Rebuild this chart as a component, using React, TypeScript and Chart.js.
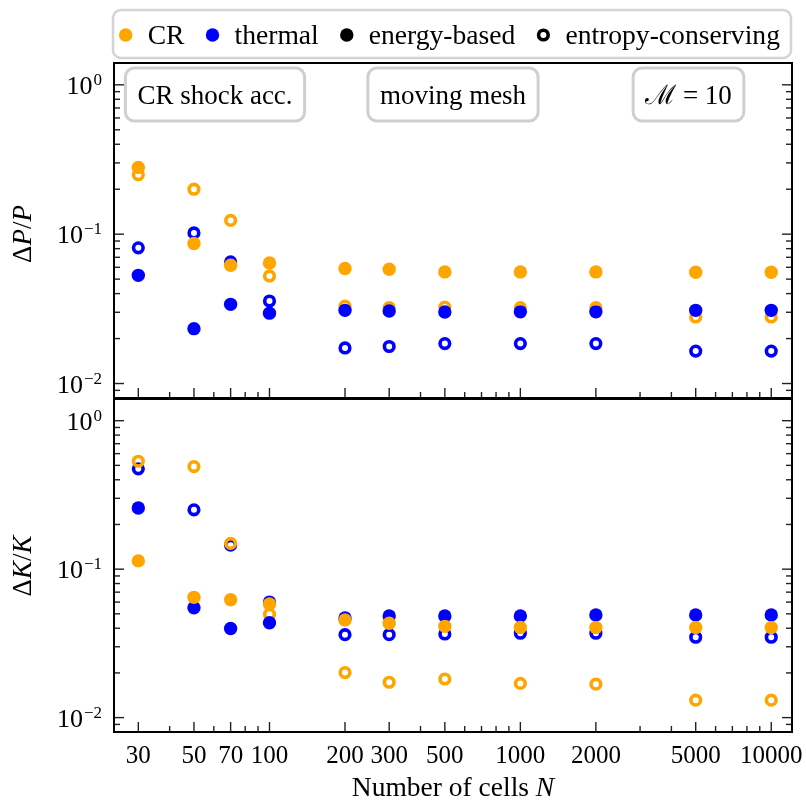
import React, { useEffect, useRef } from "react";
import { Chart, registerables } from "chart.js";
Chart.register(...registerables);

// ---------- data ----------
const cells = [30, 50, 70, 100, 200, 300, 500, 1000, 2000, 5000, 10000];
const xTickLabels = ["30", "50", "70", "100", "200", "300", "500", "1000", "2000", "5000", "10000"];
const yTickValues = [1, 0.1, 0.01];
const yTickExponents = ["0", "\u22121", "\u22122"];

// Delta P / P
const crEnergyP = [0.28, 0.0866, 0.062, 0.0642, 0.0589, 0.0582, 0.0559, 0.0559, 0.0559, 0.0556, 0.0556];
const crEntropyP = [0.25, 0.2, 0.1236, 0.0525, 0.033, 0.0322, 0.0325, 0.0322, 0.0322, 0.0279, 0.0279];
const thEnergyP = [0.053, 0.0233, 0.0339, 0.0296, 0.0309, 0.0306, 0.0301, 0.0302, 0.0302, 0.0309, 0.0309];
const thEntropyP = [0.081, 0.102, 0.0652, 0.0357, 0.0173, 0.0177, 0.0185, 0.0185, 0.0185, 0.0165, 0.0165];

// Delta K / K
const crEnergyK = [0.1137, 0.0646, 0.0622, 0.0582, 0.0455, 0.0432, 0.0412, 0.0405, 0.0404, 0.0404, 0.0404];
const crEntropyK = [0.533, 0.491, 0.149, 0.0497, 0.0201, 0.0173, 0.0182, 0.017, 0.0168, 0.0131, 0.0131];
const thEnergyK = [0.258, 0.055, 0.0398, 0.0436, 0.0469, 0.0484, 0.0484, 0.0484, 0.0491, 0.0491, 0.0491];
const thEntropyK = [0.474, 0.251, 0.145, 0.0601, 0.0362, 0.0362, 0.0366, 0.037, 0.037, 0.0348, 0.0348];

const legendLabels = ["CR", "thermal", "energy-based", "entropy-conserving"];
const boxTexts = ["CR shock acc.", "moving mesh", "\u2133 = 10"];

// ---------- styles ----------
const ORANGE = "#ffa500";
const BLUE = "#0000ff";
const SERIF = '"Liberation Serif", "Times New Roman", Times, serif';
const X_MIN = 24;
const X_MAX = 12100;
const Y_MIN = 0.008;
const Y_MAX = 1.4;
const FILLED_R = 6.7;
const OPEN_R = 4.8;
const OPEN_W = 3.6;

type Part = { t: string; i: boolean };

function pts(ys: number[]) {
  return cells.map((x, i) => ({ x, y: ys[i] }));
}

function filledSet(label: string, color: string, ys: number[]) {
  return {
    label,
    data: pts(ys),
    showLine: false,
    pointRadius: FILLED_R,
    pointHoverRadius: FILLED_R,
    pointBackgroundColor: color,
    pointBorderColor: color,
    pointBorderWidth: 0,
    backgroundColor: color,
    borderColor: color,
  };
}

function openSet(label: string, color: string, ys: number[]) {
  return {
    label,
    data: pts(ys),
    showLine: false,
    pointRadius: OPEN_R,
    pointHoverRadius: OPEN_R,
    pointBackgroundColor: "rgba(0,0,0,0)",
    pointBorderColor: color,
    pointBorderWidth: OPEN_W,
    backgroundColor: "rgba(0,0,0,0)",
    borderColor: color,
  };
}

function measureRich(ctx: CanvasRenderingContext2D, parts: Part[], size: number) {
  let w = 0;
  for (const p of parts) {
    ctx.font = `${p.i ? "italic " : ""}${size}px ${SERIF}`;
    w += ctx.measureText(p.t).width;
  }
  return w;
}

function drawRich(ctx: CanvasRenderingContext2D, parts: Part[], cx: number, y: number, size: number) {
  const w = measureRich(ctx, parts, size);
  let x = cx - w / 2;
  ctx.textAlign = "left";
  ctx.textBaseline = "alphabetic";
  for (const p of parts) {
    ctx.font = `${p.i ? "italic " : ""}${size}px ${SERIF}`;
    ctx.fillText(p.t, x, y);
    x += ctx.measureText(p.t).width;
  }
}

function roundRect(ctx: CanvasRenderingContext2D, x: number, y: number, w: number, h: number, r: number) {
  ctx.beginPath();
  ctx.moveTo(x + r, y);
  ctx.lineTo(x + w - r, y);
  ctx.arcTo(x + w, y, x + w, y + r, r);
  ctx.lineTo(x + w, y + h - r);
  ctx.arcTo(x + w, y + h, x + w - r, y + h, r);
  ctx.lineTo(x + r, y + h);
  ctx.arcTo(x, y + h, x, y + h - r, r);
  ctx.lineTo(x, y + r);
  ctx.arcTo(x, y, x + r, y, r);
  ctx.closePath();
}

type PanelOpts = {
  yTitle: Part[];
  yTitleCenter: number;
  legend: boolean;
  boxes: boolean;
  xLabels: boolean;
};

function decorPlugin(o: PanelOpts) {
  return {
    id: "decor",
    afterDraw(chart: any) {
      const ctx: CanvasRenderingContext2D = chart.ctx;
      const a = chart.chartArea;
      const xs = chart.scales.x;
      const ys = chart.scales.y;
      ctx.save();

      // ticks
      ctx.strokeStyle = "#222";
      ctx.lineWidth = 1.4;
      const hline = (x1: number, x2: number, y: number) => {
        ctx.beginPath();
        ctx.moveTo(x1, y);
        ctx.lineTo(x2, y);
        ctx.stroke();
      };
      const vline = (x: number, y1: number, y2: number) => {
        ctx.beginPath();
        ctx.moveTo(x, y1);
        ctx.lineTo(x, y2);
        ctx.stroke();
      };
      for (let e = -3; e <= 0; e++) {
        for (let k = 1; k <= 9; k++) {
          const v = k * Math.pow(10, e);
          if (v < Y_MIN || v > Y_MAX) continue;
          const py = ys.getPixelForValue(v);
          const len = k === 1 ? 10 : 6;
          hline(a.left, a.left + len, py);
          hline(a.right, a.right - len, py);
        }
      }
      for (let e = 1; e <= 4; e++) {
        for (let k = 1; k <= 9; k++) {
          const v = k * Math.pow(10, e);
          if (v < X_MIN || v > X_MAX) continue;
          const px = xs.getPixelForValue(v);
          const len = cells.includes(v) ? 10 : 6;
          vline(px, a.bottom, a.bottom - len);
        }
      }

      // frame
      ctx.strokeStyle = "#000";
      ctx.lineWidth = 2;
      ctx.strokeRect(a.left, a.top, a.right - a.left, a.bottom - a.top);

      // y tick labels
      ctx.fillStyle = "#000";
      yTickValues.forEach((v, i) => {
        const py = ys.getPixelForValue(v);
        const right = a.left - 12;
        ctx.textAlign = "right";
        ctx.textBaseline = "alphabetic";
        ctx.font = `17px ${SERIF}`;
        const sw = ctx.measureText(yTickExponents[i]).width;
        ctx.fillText(yTickExponents[i], right, py);
        ctx.font = `26px ${SERIF}`;
        ctx.fillText("10", right - sw - 1, py + 9);
      });

      // y title
      ctx.save();
      ctx.translate(31, o.yTitleCenter);
      ctx.rotate(-Math.PI / 2);
      drawRich(ctx, o.yTitle, 0, 0, 27);
      ctx.restore();

      if (o.xLabels) {
        ctx.font = `25px ${SERIF}`;
        ctx.textAlign = "center";
        ctx.textBaseline = "alphabetic";
        cells.forEach((v, i) => {
          ctx.fillText(xTickLabels[i], xs.getPixelForValue(v), 763);
        });
        drawRich(
          ctx,
          [
            { t: "Number of cells ", i: false },
            { t: "N", i: true },
          ],
          (a.left + a.right) / 2,
          796,
          27.5
        );
      }

      if (o.boxes) {
        const centers = [215, (a.left + a.right) / 2, 688.5];
        ctx.font = `27px ${SERIF}`;
        boxTexts.forEach((t, i) => {
          ctx.font = `27px ${SERIF}`;
          const w = ctx.measureText(t).width;
          const bw = w + 24;
          const bh = 53;
          const bx = centers[i] - bw / 2;
          const by = 68;
          roundRect(ctx, bx, by, bw, bh, 9);
          ctx.fillStyle = "#fff";
          ctx.fill();
          ctx.strokeStyle = "#cfcfcf";
          ctx.lineWidth = 3;
          ctx.stroke();
          ctx.fillStyle = "#000";
          ctx.textAlign = "center";
          ctx.textBaseline = "alphabetic";
          ctx.fillText(t, centers[i], by + 36);
        });
      }

      if (o.legend) {
        roundRect(ctx, 113, 10, 678, 48, 8);
        ctx.fillStyle = "#fff";
        ctx.fill();
        ctx.strokeStyle = "#d4d4d4";
        ctx.lineWidth = 2.5;
        ctx.stroke();
        const colors = [ORANGE, BLUE, "#000", "#000"];
        const open = [false, false, false, true];
        let mx = 125.7;
        const my = 35;
        legendLabels.forEach((lab, i) => {
          ctx.beginPath();
          if (open[i]) {
            ctx.arc(mx, my, OPEN_R, 0, Math.PI * 2);
            ctx.strokeStyle = colors[i];
            ctx.lineWidth = OPEN_W;
            ctx.stroke();
          } else {
            ctx.arc(mx, my, FILLED_R, 0, Math.PI * 2);
            ctx.fillStyle = colors[i];
            ctx.fill();
          }
          ctx.fillStyle = "#000";
          ctx.font = `27.6px ${SERIF}`;
          ctx.textAlign = "left";
          ctx.textBaseline = "alphabetic";
          const tx = mx + 22;
          ctx.fillText(lab, tx, 44);
          mx = tx + ctx.measureText(lab).width + 28;
        });
      }
      ctx.restore();
    },
  };
}

function makeConfig(
  sets: { crE: number[]; crS: number[]; thE: number[]; thS: number[] },
  top: number,
  bottom: number,
  o: PanelOpts
): any {
  return {
    type: "scatter",
    data: {
      datasets: [
        filledSet("CR energy-based", ORANGE, sets.crE),
        filledSet("thermal energy-based", BLUE, sets.thE),
        openSet("CR entropy-conserving", ORANGE, sets.crS),
        openSet("thermal entropy-conserving", BLUE, sets.thS),
      ],
    },
    options: {
      animation: false,
      responsive: false,
      devicePixelRatio: 1,
      events: [],
      layout: {
        autoPadding: false,
        padding: { left: 114, right: 806 - 792, top, bottom: 802 - bottom },
      },
      plugins: { legend: { display: false }, tooltip: { enabled: false } },
      scales: {
        x: { type: "logarithmic", min: X_MIN, max: X_MAX, display: false },
        y: { type: "logarithmic", min: Y_MIN, max: Y_MAX, display: false },
      },
    },
    plugins: [decorPlugin(o)],
  };
}

export default function App() {
  const topRef = useRef<HTMLCanvasElement>(null);
  const botRef = useRef<HTMLCanvasElement>(null);
  useEffect(() => {
    const c1 = new Chart(
      botRef.current as HTMLCanvasElement,
      makeConfig({ crE: crEnergyK, crS: crEntropyK, thE: thEnergyK, thS: thEntropyK }, 399, 732, {
        yTitle: [
          { t: "\u0394", i: false },
          { t: "K", i: true },
          { t: "/", i: false },
          { t: "K", i: true },
        ],
        yTitleCenter: 566,
        legend: false,
        boxes: false,
        xLabels: true,
      })
    );
    const c2 = new Chart(
      topRef.current as HTMLCanvasElement,
      makeConfig({ crE: crEnergyP, crS: crEntropyP, thE: thEnergyP, thS: thEntropyP }, 63, 398, {
        yTitle: [
          { t: "\u0394", i: false },
          { t: "P", i: true },
          { t: "/", i: false },
          { t: "P", i: true },
        ],
        yTitleCenter: 234,
        legend: true,
        boxes: true,
        xLabels: false,
      })
    );
    return () => {
      c1.destroy();
      c2.destroy();
    };
  }, []);
  return (
    <div style={{ position: "fixed", left: 0, top: 0, width: 806, height: 802, background: "#fff" }}>
      <canvas ref={botRef} width={806} height={802} style={{ position: "absolute", left: 0, top: 0 }} />
      <canvas ref={topRef} width={806} height={802} style={{ position: "absolute", left: 0, top: 0 }} />
    </div>
  );
}
